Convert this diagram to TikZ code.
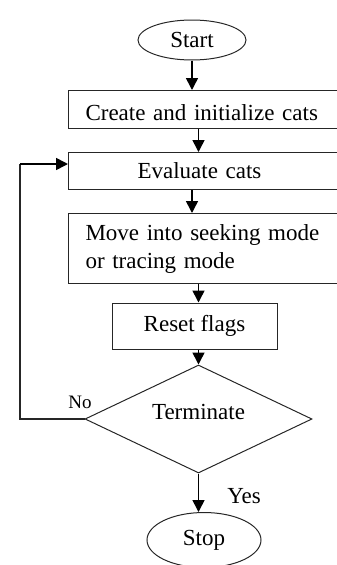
\documentclass[tikz,border=0pt]{standalone}
\usepackage{fontspec}
\setmainfont{Liberation Serif}
\usetikzlibrary{shapes.geometric,arrows.meta,calc}
\begin{document}
\begin{tikzpicture}[x=1pt,y=-1pt,
  every node/.style={font=\fontsize{23}{28}\selectfont, text=black},
  boxnode/.style={draw=black!85, line width=1pt, rectangle, align=left, inner ysep=0pt},
  ovalnode/.style={draw=black!85, line width=1pt, ellipse, inner sep=0pt},
  decnode/.style={draw=black!85, line width=1pt, diamond, aspect=2.1, inner sep=0pt},
  arr/.style={line width=1.6pt, -{Triangle[length=12pt,width=12pt]}},
  fbline/.style={draw=black!85, line width=1.1pt}]
\useasboundingbox (0,0) rectangle (337,565);
\clip (0,0) rectangle (337,565);

\node[ovalnode, minimum width=108pt, minimum height=40pt] (start) at (192,40) {Start};
\node[boxnode, anchor=north west, minimum height=38pt, inner xsep=17pt, text width=256pt, text height=22pt, text depth=0pt] (create) at (68,90) {Create and initialize cats};
\node[boxnode, anchor=north west, minimum height=37pt, inner xsep=69pt, text width=152pt] (evaluate) at (68,152) {Evaluate cats};
\node[boxnode, anchor=north west, minimum height=70pt, inner xsep=17pt, text width=256pt] (move) at (68,213) {Move into seeking mode\\or tracing mode};
\node[boxnode, align=center, minimum width=165pt, minimum height=46pt] (reset) at (194.5,326) {Reset flags};
\node[decnode, minimum width=227pt, minimum height=108pt, text height=15pt, text depth=14pt] (term) at (198.5,419) {Terminate};
\node[ovalnode, minimum width=114pt, minimum height=55pt] (stop) at (204,540) {Stop};

\node[font=\fontsize{19}{22}\selectfont] (nolabel) at (80,402) {No};
\node (yeslabel) at (244,496) {Yes};

\coordinate (fb) at (20,164);

\draw[arr] (start.south) -- (start.south |- create.north);
\draw[arr] (create.south -| term.north) -- (evaluate.north -| term.north);
\draw[arr] (evaluate.south -| start.south) -- (move.north -| start.south);
\draw[arr] (move.south -| term.north) -- (reset.north -| term.north);
\draw[arr] (reset.south -| term.north) -- (term.north);
\draw[arr] (term.south) -- (term.south |- stop.north);
\draw[fbline] (term.west) -- (term.west -| fb) -- (fb);
\draw[arr] (fb) -- (evaluate.west |- fb);
\end{tikzpicture}
\end{document}
